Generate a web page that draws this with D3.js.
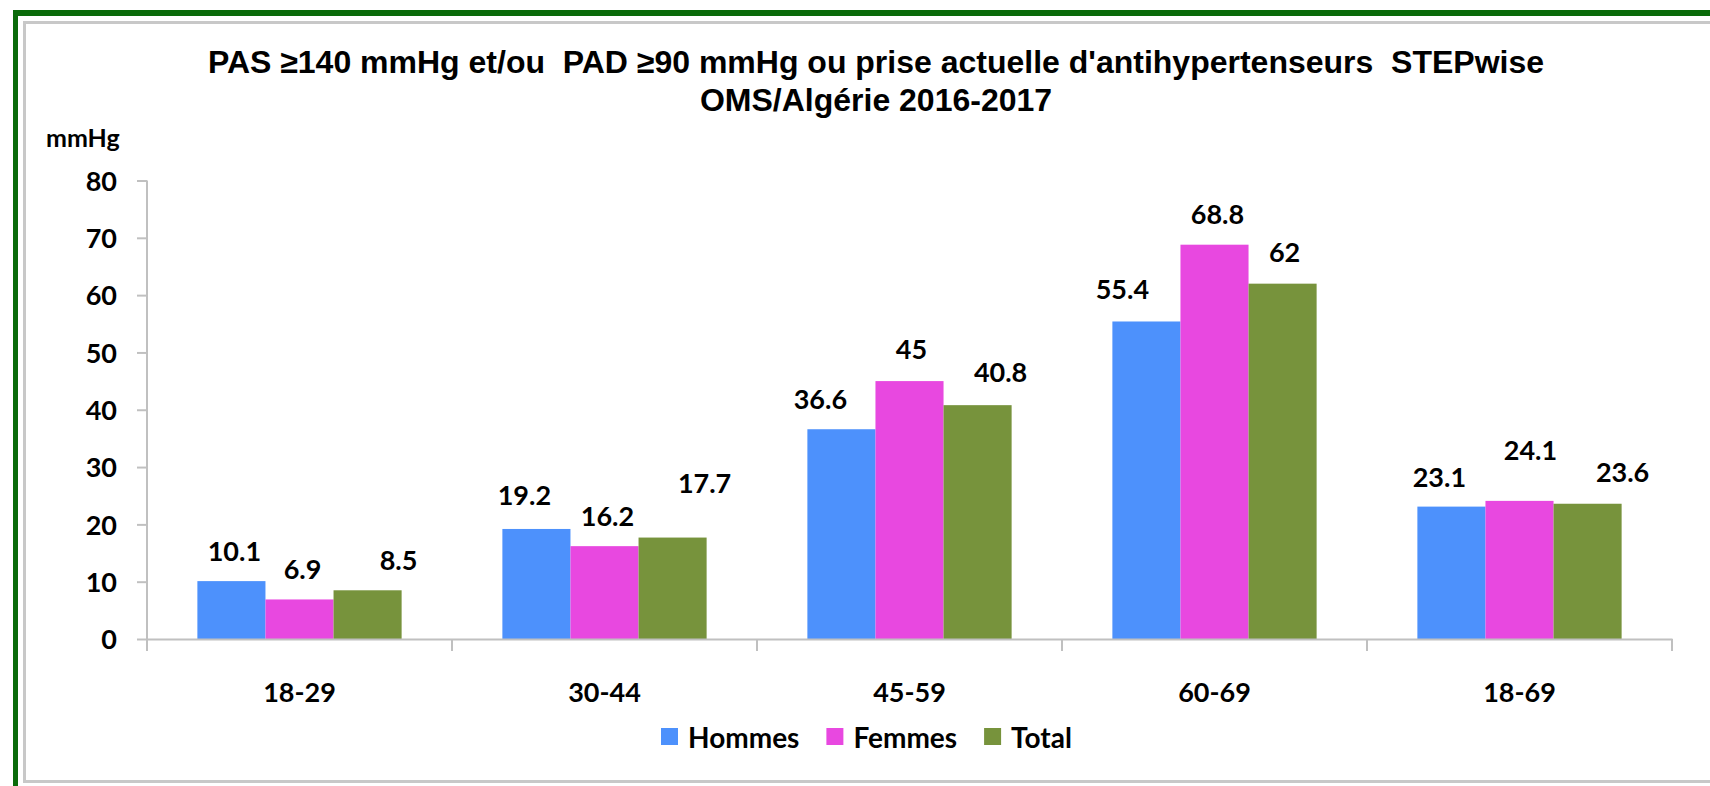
<!DOCTYPE html>
<html>
<head>
<meta charset="utf-8">
<script src="https://cdn.jsdelivr.net/npm/d3@7"></script>
<style>
  body { margin: 0; background: #fff; }
  svg { display: block; }
  .title { font-family: "Liberation Sans", Arial, sans-serif; font-weight: bold; font-size: 32px; white-space: pre; }
  .lbl { font-family: Lato, "Noto Sans", sans-serif; font-weight: bold; font-size: 27px; fill: #000; }
  .leg { font-size: 28px; }
</style>
</head>
<body>
<svg id="chart"></svg>
<script>
// DATA
var categories = ['18-29', '30-44', '45-59', '60-69', '18-69'];
var seriesNames = ['Hommes', 'Femmes', 'Total'];
var hommes = [10.1, 19.2, 36.6, 55.4, 23.1];
var femmes = [6.9, 16.2, 45, 68.8, 24.1];
var total = [8.5, 17.7, 40.8, 62, 23.6];
var yTicks = [0, 10, 20, 30, 40, 50, 60, 70, 80];
var titleLines = ["PAS \u2265140 mmHg et/ou  PAD \u226590 mmHg ou prise actuelle d'antihypertenseurs  STEPwise",
                  "OMS/Alg\u00e9rie 2016-2017"];
var unitLabel = 'mmHg';

// LABEL NUDGES (dx, dy) - the labels in the original were moved by hand
var labelNudge = [
  [[3, 0], [3, 0], [31, 0]],
  [[-12, -4], [3, 0], [32, -25]],
  [[-21, 0], [2, -2], [23, -3]],
  [[-24, -2], [3, -1], [2, -2]],
  [[-12, 0], [11, -21], [35, -2]]
];

var colors = ['#4d91fc', '#e848e0', '#77933c'];
var axisColor = '#c0c0c0';

// GLOBAL VARIABLES
var width = 1710;
var height = 786;
var svg = d3.select('#chart').attr('width', width).attr('height', height);

var rows = categories.map(function(c, i) {
  return { cat: c, values: [hommes[i], femmes[i], total[i]] };
});

// SCALES
var xScale = d3.scaleBand().domain(categories).range([147, 1672]).padding(0);
var xSub = d3.scaleBand().domain(seriesNames).range([0, xScale.bandwidth()])
  .paddingInner(0).paddingOuter(0.74);
var yScale = d3.scaleLinear().domain([0, 80]).range([639, 180.5]);

// FRAME
svg.append('line')
  .attr('x1', 13).attr('x2', width).attr('y1', 13).attr('y2', 13)
  .style('stroke', '#0a6b0a').style('stroke-width', 6);
svg.append('line')
  .attr('x1', 15.5).attr('x2', 15.5).attr('y1', 10).attr('y2', height)
  .style('stroke', '#0a6b0a').style('stroke-width', 5);
svg.append('path')
  .attr('d', 'M' + width + ',22.5 H24.5 V781.5 H' + width)
  .style('fill', 'none').style('stroke', '#c8c8c8').style('stroke-width', 3);

// TITLE
svg.selectAll('.title')
  .data(titleLines)
  .enter().append('text')
  .attr('class', 'title')
  .attr('x', 876)
  .attr('y', function(d, i) { return 73 + i * 38; })
  .attr('text-anchor', 'middle')
  .text(function(d) { return d; });

// UNIT LABEL
svg.append('text')
  .attr('class', 'lbl')
  .style('font-size', '25px')
  .attr('x', 46)
  .attr('y', 147)
  .text(unitLabel);

// Y AXIS
var yAxis = d3.axisLeft(yScale).tickValues(yTicks).tickSize(10).tickPadding(20).tickSizeOuter(0);
var yAxisG = svg.append('g')
  .attr('transform', 'translate(147,0)')
  .call(yAxis);
yAxisG.select('.domain').remove();
yAxisG.selectAll('line').style('stroke', axisColor).style('stroke-width', 2);
yAxisG.selectAll('text').attr('class', 'lbl').attr('dy', '0.36em');
yAxisG.append('line')
  .attr('x1', 0).attr('x2', 0)
  .attr('y1', yScale(80)).attr('y2', yScale(0) + 12)
  .style('stroke', axisColor).style('stroke-width', 2);

// BARS
var groups = svg.selectAll('.catG')
  .data(rows)
  .enter().append('g')
  .attr('class', 'catG')
  .attr('transform', function(d) { return 'translate(' + xScale(d.cat) + ',0)'; });

groups.selectAll('rect')
  .data(function(d) { return d.values; })
  .enter().append('rect')
  .attr('x', function(d, i) { return xSub(seriesNames[i]); })
  .attr('y', function(d) { return yScale(d); })
  .attr('width', xSub.bandwidth())
  .attr('height', function(d) { return yScale(0) - yScale(d); })
  .style('fill', function(d, i) { return colors[i]; });

// VALUE LABELS
groups.each(function(row, ci) {
  d3.select(this).selectAll('.val')
    .data(row.values)
    .enter().append('text')
    .attr('class', 'lbl val')
    .attr('text-anchor', 'middle')
    .attr('x', function(d, i) { return xSub(seriesNames[i]) + xSub.bandwidth() / 2 + labelNudge[ci][i][0]; })
    .attr('y', function(d, i) { return yScale(d) - 20 + labelNudge[ci][i][1]; })
    .text(function(d) { return d; });
});

// X AXIS
var xAxis = d3.axisBottom(xScale).tickSize(0).tickPadding(44);
var xAxisG = svg.append('g')
  .attr('transform', 'translate(0,' + yScale(0) + ')')
  .call(xAxis);
xAxisG.select('.domain').style('stroke', axisColor).style('stroke-width', 2);
xAxisG.selectAll('text').attr('class', 'lbl');

var bounds = categories.map(function(c) { return xScale(c); }).concat([xScale.range()[1]]);
xAxisG.selectAll('.bound')
  .data(bounds)
  .enter().append('line')
  .attr('class', 'bound')
  .attr('x1', function(d) { return d; }).attr('x2', function(d) { return d; })
  .attr('y1', 0).attr('y2', 12)
  .style('stroke', axisColor).style('stroke-width', 2);

// LEGEND
var legend = svg.append('g').attr('transform', 'translate(661,728)');
var lx = 0;
seriesNames.forEach(function(name, i) {
  legend.append('rect')
    .attr('x', lx).attr('y', 0)
    .attr('width', 17).attr('height', 17)
    .style('fill', colors[i]);
  var t = legend.append('text')
    .attr('class', 'lbl leg')
    .attr('x', lx + 27)
    .attr('y', 20)
    .text(name);
  lx = lx + 27 + t.node().getComputedTextLength() + 27;
});
</script>
</body>
</html>
